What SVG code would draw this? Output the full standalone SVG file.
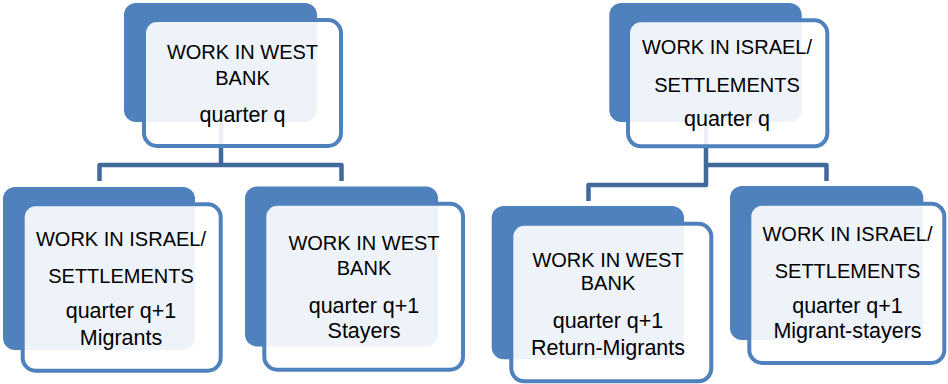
<svg xmlns="http://www.w3.org/2000/svg" width="948" height="384" viewBox="0 0 948 384">
<style>
.back{fill:#4F81BD;}
.front{fill:#FFFFFF;fill-opacity:0.9;stroke:#4F81BD;stroke-width:4;}
.conn{fill:none;stroke:#41699B;stroke-width:4.5;stroke-linejoin:round;}
text{font-family:"Liberation Sans",Arial,sans-serif;fill:#000;text-anchor:middle;}
.c{font-size:20px;}
.l{font-size:21.5px;}
</style>
<rect width="948" height="384" fill="#FFFFFF"/>
<g id="connectors">
<path class="conn" d="M221,110 V165 H99.5 V181 M221,165 H341.5 V181"/>
<path class="conn" d="M706,110 V185 H588.5 V201 M706,165 H826.5 V181"/>
</g>
<g id="node-wb-q">
<rect class="back" x="124" y="3" width="193" height="119" rx="12"/>
<rect class="front" x="144" y="20" width="197" height="126" rx="13"/>
<text class="c" x="242.5" y="59">WORK IN WEST</text>
<text class="c" x="242.5" y="85">BANK</text>
<text class="l" x="242.5" y="122">quarter q</text>
</g>
<g id="node-migrants">
<rect class="back" x="3" y="187" width="192" height="163" rx="12"/>
<rect class="front" x="22.7" y="204.3" width="198" height="166.4" rx="13"/>
<text class="c" x="121" y="246">WORK IN ISRAEL/</text>
<text class="c" x="121" y="283">SETTLEMENTS</text>
<text class="l" x="121" y="318">quarter q+1</text>
<text class="l" x="121" y="345">Migrants</text>
</g>
<g id="node-stayers">
<rect class="back" x="245" y="186.5" width="193" height="160" rx="12"/>
<rect class="front" x="264.3" y="203.7" width="198.7" height="166" rx="13"/>
<text class="c" x="364" y="250">WORK IN WEST</text>
<text class="c" x="364" y="275">BANK</text>
<text class="l" x="364" y="313">quarter q+1</text>
<text class="l" x="364" y="338">Stayers</text>
</g>
<g id="node-is-q">
<rect class="back" x="609.3" y="3" width="192.4" height="119" rx="12"/>
<rect class="front" x="628" y="20.3" width="199.3" height="126" rx="13"/>
<text class="c" x="727" y="54">WORK IN ISRAEL/</text>
<text class="c" x="727" y="91.5">SETTLEMENTS</text>
<text class="l" x="727" y="126">quarter q</text>
</g>
<g id="node-return-migrants">
<rect class="back" x="491.7" y="206" width="192.3" height="153.3" rx="12"/>
<rect class="front" x="511.3" y="223.7" width="200" height="157.6" rx="13"/>
<text class="c" x="608" y="266.7">WORK IN WEST</text>
<text class="c" x="608" y="290">BANK</text>
<text class="l" x="608" y="328.3">quarter q+1</text>
<text class="l" x="608" y="355">Return-Migrants</text>
</g>
<g id="node-migrant-stayers">
<rect class="back" x="730" y="186" width="193.3" height="154" rx="12"/>
<rect class="front" x="749.3" y="203.7" width="195" height="159.3" rx="13"/>
<text class="c" x="847.5" y="240.7">WORK IN ISRAEL/</text>
<text class="c" x="847.5" y="278.3">SETTLEMENTS</text>
<text class="l" x="847.5" y="313.3">quarter q+1</text>
<text class="l" x="847.5" y="338.3">Migrant-stayers</text>
</g>
</svg>
